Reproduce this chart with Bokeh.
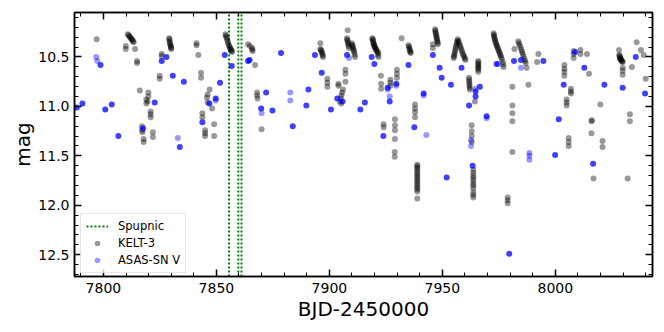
from bokeh.plotting import figure
from bokeh.models import (Range1d, LinearAxis, SingleIntervalTicker, Legend, LegendItem,
                          PrintfTickFormatter, CustomJSTickFormatter)
from bokeh.embed import file_html
from bokeh.resources import INLINE

# ---------------- data ----------------
spupnic_x = [7855.6, 7859.7, 7861.1]

kelt_x = [
    7797.0,
    7810.8, 7811.1, 7811.5, 7811.8, 7812.2, 7812.5, 7812.8, 7813.1, 7813.4,
    7809.9, 7809.9, 7814.0, 7814.9, 7814.9,
    7829.1, 7829.2, 7829.3, 7829.4, 7829.6, 7829.7, 7829.9, 7829.95, 7830.0,
    7825.8, 7825.8, 7824.9, 7824.9, 7816.1,
    7819.9, 7819.9, 7819.0, 7819.0, 7819.5,
    7820.9, 7820.9, 7820.9,
    7817.1, 7817.1, 7817.3, 7817.8, 7817.8, 7821.9, 7821.9,
    7841.2, 7841.2, 7842.0, 7843.2, 7843.2,
    7847.0, 7846.1, 7845.8, 7846.1, 7848.1,
    7843.8, 7843.8, 7845.0, 7845.0, 7845.0, 7849.0, 7849.0,
    7854.0, 7854.2, 7854.4, 7854.7, 7855.0, 7855.2, 7855.5, 7855.8, 7856.0, 7856.3, 7856.6, 7856.8, 7856.9,
    7864.0, 7864.8, 7865.8, 7865.9, 7866.0, 7867.1,
    7868.0, 7868.0, 7868.2, 7870.0,
    7908.1, 7907.8, 7907.9, 7908.1, 7908.2, 7908.4, 7908.5, 7908.7,
    7909.9, 7910.1, 7910.3, 7910.45, 7910.6, 7910.8, 7911.0, 7911.2, 7911.4,
    7896.0, 7896.0, 7896.2, 7896.5, 7896.7, 7896.9, 7897.0, 7897.2,
    7899.1, 7899.1, 7899.1, 7904.0, 7904.0,
    7907.1, 7907.1, 7907.1,
    7906.0, 7905.7, 7905.3, 7905.0, 7904.7, 7905.2,
    7919.0, 7919.15, 7919.3, 7919.4, 7919.5, 7919.65, 7919.8, 7919.95, 7920.1, 7920.3,
    7920.5, 7920.75, 7921.0, 7921.3, 7921.5,
    7921.7, 7921.7, 7932.0,
    7935.0, 7935.2, 7935.4, 7935.55, 7935.7, 7935.85, 7936.0,
    7922.8, 7922.9, 7922.9,
    7927.0, 7927.0, 7927.0, 7929.9, 7929.9, 7929.9,
    7924.0, 7924.0, 7929.0, 7929.0, 7929.0, 7929.0, 7928.9, 7928.9,
    7937.9, 7937.9, 7937.9, 7937.9,
    7938.9, 7938.9, 7938.9, 7938.9, 7938.9, 7938.9, 7938.9, 7938.9, 7938.9,
    7938.9, 7938.9, 7938.9, 7938.9, 7938.9, 7938.9, 7938.9,
    7946.8, 7946.9, 7947.0, 7947.15, 7947.3, 7947.4, 7947.5, 7947.65, 7947.8, 7947.9, 7948.0,
    7945.8, 7945.8,
    7955.0, 7955.15, 7955.3, 7955.45, 7955.6, 7955.8, 7956.0, 7956.2, 7956.4, 7956.6, 7956.8,
    7957.0, 7957.3, 7957.6, 7957.9, 7958.2, 7958.5, 7958.8, 7959.1, 7959.4, 7959.7, 7960.0, 7960.2,
    7965.9, 7965.9, 7965.9, 7965.9, 7965.9, 7965.9, 7965.9, 7965.9,
    7972.7, 7972.8, 7972.9, 7973.05, 7973.2, 7973.4, 7973.6, 7973.8, 7974.0, 7974.25, 7974.5,
    7974.75, 7975.0, 7975.25, 7975.5, 7975.75, 7976.0, 7976.3, 7976.7, 7976.9, 7977.1,
    7981.9,
    7983.6, 7983.9, 7984.2, 7984.6, 7985.0, 7985.3, 7985.6, 7985.9, 7986.3, 7986.6, 7986.9, 7987.3,
    7992.5, 7991.9, 7988.1,
    7961.8, 7961.85, 7961.9, 7961.95, 7962.0, 7962.1, 7962.2, 7964.4,
    7963.0, 7963.0, 7963.0, 7963.0,
    7963.7, 7963.7, 7963.7, 7963.7, 7963.7, 7963.7,
    7963.7, 7963.7, 7963.7, 7963.7, 7963.7,
    7978.9, 7978.9, 7978.9,
    7981.0, 7981.0, 7981.0, 7981.0, 7981.0,
    8011.1, 8011.1, 8008.1, 8008.1, 8008.1, 8014.0,
    8004.0, 8004.0, 8004.0, 8004.0, 8014.9,
    8006.9, 8006.9, 8006.9, 8005.0, 8005.0, 8005.0,
    8016.1, 8016.1, 8016.0,
    8005.9, 8005.9, 8005.9, 8020.9, 8020.9, 8019.9,
    8028.2, 8028.3, 8028.4, 8028.6, 8028.8, 8029.0, 8029.2, 8029.4, 8029.6, 8029.8, 8028.5,
    8029.8, 8029.8, 8029.8, 8033.9, 8033.0, 8033.0,
    8036.0, 8037.9, 8039.1, 8040.0, 8016.9, 8032.0,
]
kelt_y = [
    10.32,
    10.27, 10.28, 10.29, 10.30, 10.31, 10.32, 10.33, 10.34, 10.35,
    10.39, 10.42, 10.42, 10.54, 10.56,
    10.31, 10.32, 10.34, 10.355, 10.37, 10.385, 10.40, 10.41, 10.42,
    10.47, 10.49, 10.69, 10.72, 10.84,
    10.86, 10.90, 10.93, 10.97, 10.95,
    11.05, 11.08, 11.11,
    11.20, 11.24, 11.26, 11.33, 11.36, 11.26, 11.31,
    10.36, 10.38, 10.48, 10.66, 10.71,
    10.83, 10.88, 10.91, 10.96, 11.02,
    11.07, 11.11, 11.24, 11.27, 11.30, 11.18, 11.30,
    10.27, 10.285, 10.30, 10.32, 10.34, 10.36, 10.38, 10.395, 10.41, 10.42, 10.43, 10.44, 10.45,
    10.37, 10.39, 10.41, 10.425, 10.44, 10.58,
    10.86, 10.89, 10.92, 11.23,
    10.23, 10.31, 10.325, 10.34, 10.355, 10.37, 10.39, 10.41,
    10.36, 10.375, 10.39, 10.405, 10.42, 10.435, 10.45, 10.475, 10.50,
    10.36, 10.42, 10.43, 10.44, 10.455, 10.47, 10.485, 10.50,
    10.72, 10.76, 10.80, 10.77, 10.79,
    10.63, 10.67, 10.75,
    10.83, 10.86, 10.89, 10.92, 10.95, 10.97,
    10.31, 10.32, 10.33, 10.345, 10.36, 10.37, 10.38, 10.39, 10.40, 10.41,
    10.42, 10.43, 10.44, 10.45, 10.48,
    10.46, 10.50, 10.31,
    10.38, 10.395, 10.41, 10.425, 10.44, 10.45, 10.46,
    10.69, 10.77, 10.82,
    10.73, 10.76, 10.79, 10.63, 10.67, 10.71,
    11.18, 11.21, 11.13, 11.19, 11.24, 11.33, 11.46, 11.51,
    10.98, 11.02, 11.06, 11.11,
    11.59, 11.62, 11.66, 11.70, 11.74, 11.78, 11.82, 11.86, 11.93,
    11.605, 11.64, 11.68, 11.72, 11.76, 11.80, 11.84,
    10.22, 10.235, 10.25, 10.265, 10.28, 10.295, 10.31, 10.325, 10.34, 10.355, 10.37,
    10.37, 10.41,
    10.51, 10.495, 10.48, 10.46, 10.44, 10.42, 10.40, 10.38, 10.36, 10.34, 10.32,
    10.335, 10.35, 10.37, 10.39, 10.41, 10.43, 10.45, 10.47, 10.485, 10.50, 10.515, 10.53,
    10.54, 10.555, 10.57, 10.585, 10.60, 10.615, 10.63, 10.65,
    10.26, 10.275, 10.29, 10.305, 10.32, 10.335, 10.35, 10.365, 10.38, 10.395, 10.41,
    10.425, 10.44, 10.455, 10.47, 10.485, 10.50, 10.52, 10.55, 10.575, 10.60,
    10.42,
    10.34, 10.36, 10.38, 10.405, 10.43, 10.45, 10.47, 10.495, 10.52, 10.54, 10.56, 10.61,
    10.47, 10.55, 10.78,
    10.71, 10.73, 10.75, 10.77, 10.79, 10.81, 10.83, 10.95,
    11.19, 11.25, 11.30, 11.36,
    11.64, 11.70, 11.75, 11.80, 11.87, 11.92,
    11.67, 11.725, 11.78, 11.83, 11.895,
    11.92, 11.95, 11.98,
    10.80, 10.99, 11.07, 11.15, 11.46,
    10.43, 10.47, 10.44, 10.47, 10.51, 10.47,
    10.58, 10.62, 10.65, 10.69, 10.67,
    10.82, 10.85, 10.87, 10.93, 10.96, 10.99,
    11.14, 11.15, 11.27,
    11.32, 11.36, 11.40, 11.35, 11.41, 10.98,
    10.43, 10.48, 10.49, 10.50, 10.51, 10.52, 10.53, 10.54, 10.545, 10.55, 10.52,
    10.61, 10.64, 10.68, 10.60, 11.08, 11.15,
    10.35, 10.43, 10.48, 10.72, 11.73, 11.73,
]

# ASAS-SN V: epochs where several exposures overlap (strong) and single exposures (faint)
asas_x = [
    7788.2, 7790.7, 7798.7, 7800.8, 7803.7, 7806.6, 7817.5, 7822.7, 7825.8, 7827.9,
    7830.7, 7833.8, 7835.6, 7843.8, 7846.9, 7849.7, 7851.6, 7853.7, 7856.8, 7864.0,
    7864.7, 7869.8, 7872.0, 7874.8, 7878.6, 7883.8, 7889.8, 7890.7, 7893.6, 7896.6,
    7900.7, 7903.5, 7905.8, 7907.8, 7913.7, 7915.7, 7918.7, 7919.9, 7925.8, 7926.7,
    7929.6, 7935.0, 7923.9, 7937.6, 7941.7, 7945.8, 7948.8, 7949.7, 7953.8, 7958.5,
    7951.9, 7966.6, 7964.7, 7964.7, 7961.8, 7969.6, 7963.4, 7974.0, 7981.7, 7984.8,
    7994.7, 7999.9, 8001.5, 7979.6, 8008.7, 8012.8, 8003.7, 8021.7, 8029.8, 8035.6,
    8039.7, 8016.7,
]
asas_y = [
    11.01, 10.97, 10.58, 11.03, 10.98, 11.30, 11.22, 10.96, 10.54, 10.50,
    10.69, 11.41, 10.75, 11.16, 10.97, 10.92, 10.76, 10.48, 10.59, 10.54,
    10.53, 11.02, 10.86, 11.04, 10.46, 11.20, 10.99, 10.83, 10.48, 10.66,
    11.03, 10.92, 10.95, 10.48, 11.03, 10.96, 10.50, 10.57, 10.81, 10.95,
    10.77, 10.58, 11.30, 11.21, 10.87, 10.48, 10.61, 10.71, 10.78, 10.61,
    11.72, 10.80, 10.85, 10.90, 10.99, 11.10, 11.60, 10.57, 10.54, 10.53,
    10.54, 11.49, 11.13, 12.49, 10.45, 10.61, 10.78, 10.78, 10.81, 10.50,
    10.87, 11.58,
]
asas_single_x = [
    7796.8, 7797.3, 7832.9, 7870.0, 7882.7, 7882.7, 7908.7, 7926.7, 7942.9, 7962.7,
    7962.7, 7984.8, 7988.5, 7988.5, 7988.5, 7964.7, 7969.6, 7941.7, 7929.6, 7925.8,
    7849.7, 7974.8,
]
asas_single_y = [
    10.50, 10.54, 11.32, 11.07, 10.86, 10.94, 10.51, 10.90, 11.29, 11.34,
    11.40, 10.61, 11.47, 11.50, 11.54, 10.82, 11.12, 10.89, 10.79, 10.83,
    10.94, 10.57,
]

x_start, x_end = 7787.2, 8043.0
y_faint, y_bright = 12.72, 10.05

FONT = "DejaVu Sans"

p = figure(width=660, height=324, output_backend="svg", toolbar_location=None,
           x_range=Range1d(x_start, x_end), y_range=Range1d(y_faint, y_bright),
           min_border_left=74, min_border_right=8, min_border_top=12, min_border_bottom=48,
           x_axis_label="BJD-2450000", y_axis_label="mag")
p.xgrid.visible = False
p.ygrid.visible = False
p.outline_line_color = "black"
p.outline_line_width = 1.5
p.background_fill_color = "white"
p.border_fill_color = "white"

xt = SingleIntervalTicker(interval=50, num_minor_ticks=5)
yt = SingleIntervalTicker(interval=0.5, num_minor_ticks=5)
p.xaxis.ticker = xt
p.yaxis.ticker = yt
p.yaxis.formatter = PrintfTickFormatter(format="%.1f")


def style_axis(ax, labels=True):
    ax.axis_line_color = "black"
    ax.axis_line_width = 1.5
    ax.major_tick_in = 7
    ax.major_tick_out = 0
    ax.minor_tick_in = 4
    ax.minor_tick_out = 0
    ax.major_tick_line_width = 1.5
    ax.minor_tick_line_width = 1
    ax.major_tick_line_color = "black"
    ax.minor_tick_line_color = "black"
    ax.major_label_text_font = FONT
    ax.major_label_text_font_size = "14px"
    ax.major_label_text_color = "black"
    ax.axis_label_text_font = FONT
    ax.axis_label_text_font_size = "20px"
    ax.axis_label_text_font_style = "normal"
    ax.axis_label_text_color = "black"
    if not labels:
        ax.formatter = CustomJSTickFormatter(code="return ''")
        ax.major_label_standoff = 0


style_axis(p.xaxis[0])
style_axis(p.yaxis[0])
p.xaxis[0].major_label_standoff = 6
p.yaxis[0].major_label_standoff = 5
p.xaxis[0].axis_label_standoff = 1
p.yaxis[0].axis_label_standoff = 0

top = LinearAxis(ticker=xt)
right = LinearAxis(ticker=yt)
style_axis(top, labels=False)
style_axis(right, labels=False)
p.add_layout(top, "above")
p.add_layout(right, "right")

r_sp = p.segment(x0=spupnic_x, x1=spupnic_x, y0=[y_faint] * len(spupnic_x),
                 y1=[y_bright] * len(spupnic_x), line_color="#008000",
                 line_width=2, line_dash="2 2")
r_kelt = p.scatter(kelt_x, kelt_y, size=6, fill_color="black", fill_alpha=0.4,
                   line_color=None)
r_asas1 = p.scatter(asas_single_x, asas_single_y, size=6, fill_color="blue",
                    fill_alpha=0.4, line_color=None)
r_asas = p.scatter(asas_x, asas_y, size=6, fill_color="blue", fill_alpha=0.75,
                   line_color=None)

legend = Legend(items=[
    LegendItem(label="Spupnic", renderers=[r_sp]),
    LegendItem(label="KELT-3", renderers=[r_kelt]),
    LegendItem(label="ASAS-SN V", renderers=[r_asas1]),
], location=(6, 3))
legend.label_text_font = FONT
legend.label_text_font_size = "11.5px"
legend.label_text_color = "black"
legend.glyph_width = 22
legend.glyph_height = 14
legend.label_height = 14
legend.label_standoff = 10
legend.spacing = 3
legend.padding = 5
legend.margin = 0
legend.border_line_color = "#cccccc"
legend.border_line_width = 1
legend.background_fill_alpha = 0.8
p.add_layout(legend)

open("out.html", "w").write(file_html(p, INLINE))
